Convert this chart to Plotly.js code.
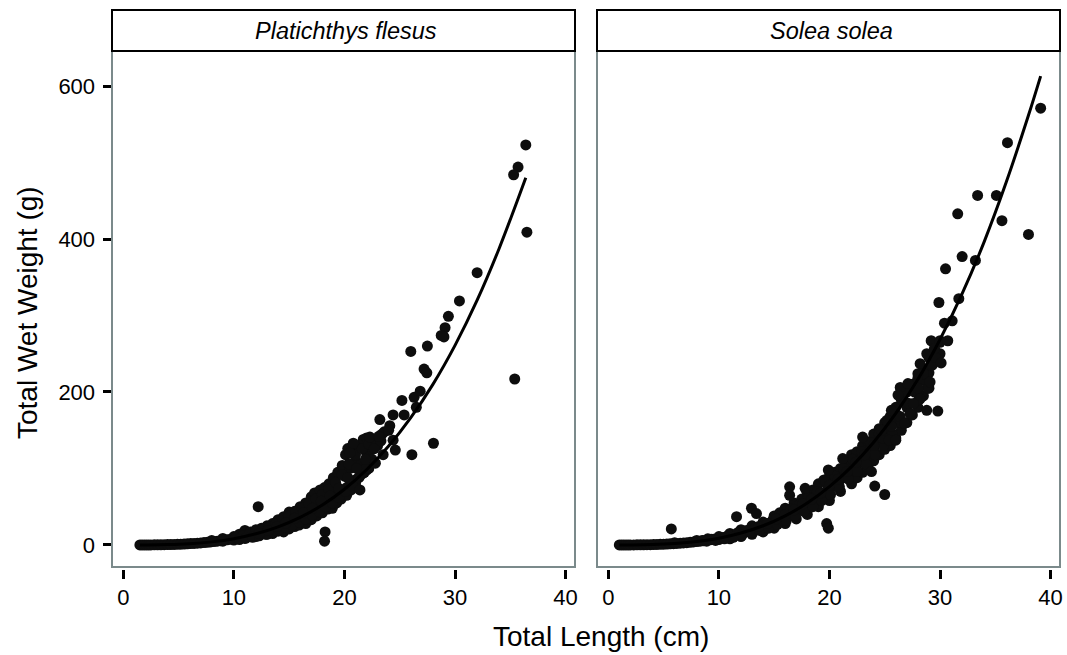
<!DOCTYPE html>
<html>
<head>
<meta charset="utf-8">
<script src="https://cdn.plot.ly/plotly-3.0.1.min.js"></script>
<style>html,body{margin:0;padding:0;background:#fff;}#chart{width:1067px;height:655px;}</style>
</head>
<body>
<div id="chart"></div>
<script>
// ---------- Data ----------
const panelTitles = ["Platichthys flesus", "Solea solea"];
const xTickVals = [0, 10, 20, 30, 40];
const yTickVals = [0, 200, 400, 600];
const xTitle = "Total Length (cm)";
const yTitle = "Total Wet Weight (g)";

// Platichthys flesus – dense band
const pfBandLength = [1.5,1.7,1.9,2.1,2.3,2.5,2.8,3.1,3.4,3.7,4.0,4.3,4.6,4.9,5.2,5.5,5.8,6.1,6.4,6.7,
  7.0,7.3,7.6,7.9,8.2,8.5,8.8,9.1,9.4,9.7,10.0,10.3,10.6,10.9,11.2,11.5,11.8,12.1,12.4,12.7,
  13.0,13.3,13.6,13.9,14.2,14.5,14.8,15.1,15.4,15.7,16.0,16.3,16.6,16.9,17.2,17.5,17.8,18.1,18.4,18.7,
  19.0,19.3,19.6,19.9,20.2,20.5,20.8,21.1,21.4,21.7,22.0];
const pfBandWeight = [0.02,0.03,0.04,0.06,0.08,0.1,0.15,0.21,0.28,0.36,0.46,0.58,0.72,0.88,1.06,1.26,1.5,1.76,2.04,2.36,
  2.7,3.1,3.5,3.95,4.45,5.0,5.55,6.2,6.8,7.5,8.2,9.0,9.9,10.8,11.7,12.7,13.8,14.9,16.1,17.4,
  18.7,20.1,21.6,23.1,24.7,26.4,28.1,29.9,31.8,33.8,36,38,40.3,42.6,45,47.5,50,53,55.7,58.6,
  61.6,64.7,68,71.3,75,78.5,82,86,90,94,98];
// Platichthys flesus – spread around the band
const pfUpperLength = [8,9,10,10.5,11,11.5,12,12.5,13,13.5,14,14.5,15,15.5,16,16.5,17,17.3,17.8,18.2,18.6,19,19.4,19.8,20.1,20.3,20.6,21,21.3,21.7,22,22.6,23.6];
const pfUpperWeight = [6,8.5,11,14,19,17,20,22,25,28,33,37,43,44,50,55,63,68,72,75,80,88,95,104,118,126,122,125,130,138,140,138,148];
const pfLowerLength = [9,10,11,12,13,13.5,14,14.5,15,15.5,15.9,16.5,17,17.5,18,18.5,18.9,19.3,19.7,20.2,20.6,21,21.8,22.2,23.5];
const pfLowerWeight = [5,6.5,8.5,11,14,15,18,17,21,24,26,28,33,38,42,47,48,55,60,65,72,80,95,100,118];
const pfMidLength = [15,16,17,18,19,20,20.5,21,21.5,22,22.5,23];
const pfMidWeight = [35,40,50,60,70,90,100,110,105,120,125,130];
const pfFillALength = [10.2,10.8,11.4,12.0,12.6,13.2,13.8,14.4,15.0,15.6,16.2,16.8,17.4,18.0,18.6,19.2,19.8,20.4,21.0,21.6,22.2,22.8,23.4];
const pfFillAWeight = [10,12,14,17,20,24,28,32,38,43,48,54,60,66,73,82,92,106,118,126,132,138,145];
const pfFillBLength = [10.5,11.1,11.7,12.3,12.9,13.5,14.1,14.7,15.3,15.9,16.5,17.1,17.7,18.3,18.9,19.5,20.1,20.7,21.3,21.9,22.5];
const pfFillBWeight = [7,9,10,12,14,17,20,23,26,30,34,39,44,50,55,62,70,78,88,100,112];
const pfFillCLength = [12.3,13.1,13.9,14.7,15.5,16.3,17.1,17.9,18.7,19.5,20.3,21.1,21.9,22.7,23.3];
const pfFillCWeight = [15,19,24,29,35,42,48,57,64,74,88,100,112,126,136];
// Platichthys flesus – isolated points
const pfOutLength = [36.4,35.7,35.3,36.5,35.4,32.0,30.4,29.4,29.1,28.75,29.0,26.0,27.5,27.2,27.45,25.2,26.3,26.85,26.5,
  24.4,25.4,23.2,24.1,24.0,28.05,26.1,20.8,20.5,22.3,23.1,24.4,24.6,22.8,21.4,18.25,18.2,12.2];
const pfOutWeight = [523,494,484,409,217,356,319,299,284,274,272,253,260,230,225,189,193,201,180,
  170,170,164,156,150,133,118,133,120,141,142,137,124,107,72,17,5,50];
// Platichthys flesus – fitted curve
const pfFitLength = [1.5,2,4,6,8,10,12,14,16,18,20,22,24,26,28,30,32,34,36.4];
const pfFitWeight = [0.02,0.052,0.46,1.64,4.06,8.2,14.6,23.7,36.1,52.2,72.9,98.4,129.4,166.5,210,261,320,388,480];

// Solea solea – dense band
const ssBandLength = [1.0,1.2,1.4,1.6,1.8,2.0,2.3,2.6,2.9,3.2,3.5,3.8,4.1,4.4,4.7,5.0,5.3,5.6,5.9,6.2,
  6.5,6.8,7.1,7.4,7.7,8.0,8.3,8.6,8.9,9.2,9.5,9.8,10.1,10.4,10.7,11.0,11.3,11.6,11.9,12.2,
  12.5,12.8,13.1,13.4,13.7,14.0,14.3,14.6,14.9,15.2,15.5,15.8,16.1,16.4,16.7,17.0,17.3,17.6,17.9,18.2,
  18.5,18.8,19.1,19.4,19.7,20.0,20.3,20.6,20.9,21.2,21.5,21.8,22.1,22.4,22.7,23.0,23.3,23.6,23.9,24.2,
  24.5,24.8,25.1];
const ssBandWeight = [0.007,0.012,0.02,0.03,0.042,0.059,0.09,0.13,0.18,0.25,0.33,0.43,0.55,0.69,0.85,1.03,1.24,1.47,1.73,2.0,
  2.34,2.68,3.06,3.47,3.92,4.4,4.92,5.48,6.08,6.73,7.42,8.16,8.95,9.8,10.7,11.6,12.6,13.7,14.8,16.0,
  17.3,18.6,20,21.4,22.9,24.5,26.2,27.9,29.7,31.6,33.5,35.6,37.7,39.9,42.2,44.6,47,49.6,52.2,55,
  57.8,60.7,63.7,66.8,70,73.5,77,80.5,84,88,92,96,100,104,108,113,117,122,127,132,
  137,142,147];
// Solea solea – spread around the band
const ssUpperLength = [6,8,9,10,11,12,13,14,15,15.5,16,16.8,17.5,18,18.5,19,19.5,20,20.5,21,21.5,22,22.5,23,23.5,24,24.5,25,25.5,26,26.5,27,27.5,28,28.5,29,29.5,30];
const ssUpperWeight = [3,6,8,11,15,20,25,30,38,42,48,55,60,68,72,80,85,90,95,100,108,118,122,130,135,145,152,160,168,180,190,200,210,218,230,245,255,265];
const ssLowerLength = [10,11,12,13,14,15,16,17,18,19,20,21,22,22.5,23,23.5,24,24.5,25,25.5,26,26.5,27,27.5,28,28.5,29];
const ssLowerWeight = [7,8,11,14,17,22,28,34,40,50,58,70,80,88,95,100,110,118,125,130,140,150,160,170,180,195,205];
const ssMidLength = [22,23,24,25,26,27,28,29,30];
const ssMidWeight = [105,115,125,140,160,180,200,225,250];
const ssFillALength = [8.5,9.3,10.1,10.9,11.7,12.5,13.3,14.1,14.9,15.7,16.5,17.3,18.1,18.9,19.7,20.5,21.3,22.1,22.9,23.7,24.5,25.3,26.1,26.9,27.7,28.5,29.3];
const ssFillAWeight = [6,7.5,10,13,16,19,23,28,33,40,47,53,62,70,82,90,100,112,122,134,145,158,170,186,200,215,235];
const ssFillBLength = [8.9,9.7,10.5,11.3,12.1,12.9,13.7,14.5,15.3,16.1,16.9,17.7,18.5,19.3,20.1,20.9,21.7,22.5,23.3,24.1,24.9,25.7,26.5,27.3,28.1,28.9];
const ssFillBWeight = [5,6,8,10,13,16,19,22,27,32,38,44,50,58,66,76,86,96,106,118,130,145,160,172,190,205];
const ssFillCLength = [13.6,14.4,15.2,16.0,16.8,17.6,18.4,19.2,20.0,20.8,21.6,22.4,23.2,24.0,24.8,25.6,26.4,27.2,28.0,28.8,29.6];
const ssFillCWeight = [24,28,34,40,46,54,60,68,78,86,96,108,118,130,140,155,168,185,205,222,245];
// Solea solea – isolated points
const ssOutLength = [39.1,36.1,33.4,35.1,31.6,35.6,38.0,32.0,33.2,30.5,29.9,31.7,30.4,31.1,29.2,30.0,30.7,28.8,29.5,30.1,
  28.2,28.5,29.1,28.0,26.4,27.1,26.2,28.2,28.8,29.8,27.6,25.6,26.8,23.0,25.2,24.7,25.4,26.0,21.2,19.9,
  23.8,24.1,25.0,16.4,16.4,17.8,19.75,19.9,12.95,13.4,11.6,5.7];
const ssOutWeight = [571,526,457,457,433,424,406,377,372,361,317,322,290,293,267,267,267,250,257,238,
  237,224,213,224,206,211,196,191,176,175,185,176,159,141,163,150,137,137,113,98,
  96,77,66,76,65,74,28,22,48,41,37,21];
// Solea solea – fitted curve
const ssFitLength = [1,2,4,6,8,10,12,14,16,18,20,22,24,26,28,30,32,34,36,38,39.1];
const ssFitWeight = [0.007,0.059,0.51,1.8,4.4,8.8,15.6,25.1,38.1,54.8,76.2,102.5,134.3,172,216.6,268.7,328.5,396.6,474.7,561.7,613];

// ---------- Build ----------
const pfL = [].concat(pfBandLength, pfUpperLength, pfLowerLength, pfMidLength, pfFillALength, pfFillBLength, pfFillCLength, pfOutLength);
const pfW = [].concat(pfBandWeight, pfUpperWeight, pfLowerWeight, pfMidWeight, pfFillAWeight, pfFillBWeight, pfFillCWeight, pfOutWeight);
const ssL = [].concat(ssBandLength, ssUpperLength, ssLowerLength, ssMidLength, ssFillALength, ssFillBLength, ssFillCLength, ssOutLength);
const ssW = [].concat(ssBandWeight, ssUpperWeight, ssLowerWeight, ssMidWeight, ssFillAWeight, ssFillBWeight, ssFillCWeight, ssOutWeight);

const W = 1067, H = 655;
const px = v => v / W;
const py = v => 1 - v / H;

const FONT = '"Liberation Sans", Arial, Helvetica, sans-serif';
const markerStyle = {color: '#0d0d0d', size: 11, line: {width: 0}};
const lineStyle = {color: '#000000', width: 3, shape: 'spline'};

const traces = [
  {x: pfL, y: pfW, type: 'scatter', mode: 'markers', marker: markerStyle, xaxis: 'x', yaxis: 'y', hoverinfo: 'x+y'},
  {x: pfFitLength, y: pfFitWeight, type: 'scatter', mode: 'lines', line: lineStyle, xaxis: 'x', yaxis: 'y'},
  {x: ssL, y: ssW, type: 'scatter', mode: 'markers', marker: markerStyle, xaxis: 'x2', yaxis: 'y2', hoverinfo: 'x+y'},
  {x: ssFitLength, y: ssFitWeight, type: 'scatter', mode: 'lines', line: lineStyle, xaxis: 'x2', yaxis: 'y2'}
];

const xRange = [-1.02, 40.85];
const yRange = [-28.8, 645.8];
const yDom = [py(567), py(51)];
const tickFont = {family: FONT, size: 22, color: '#000'};

function xAxis(dom) {
  return {
    domain: dom, range: xRange, anchor: 'free', position: py(568.5),
    tickvals: xTickVals, ticktext: xTickVals.map(String),
    ticks: 'outside', ticklen: 9, tickwidth: 3, tickcolor: '#000',
    showline: false, showgrid: false, zeroline: false,
    tickfont: tickFont, fixedrange: true
  };
}

const layout = {
  width: W, height: H,
  margin: {l: 0, r: 0, t: 0, b: 0},
  showlegend: false,
  paper_bgcolor: '#ffffff', plot_bgcolor: '#ffffff',
  font: {family: FONT, size: 20, color: '#000'},
  xaxis: xAxis([px(112), px(575)]),
  xaxis2: xAxis([px(597), px(1060)]),
  yaxis: {
    domain: yDom, range: yRange, anchor: 'free', position: px(110.5),
    tickvals: yTickVals, ticktext: yTickVals.map(String),
    ticks: 'outside', ticklen: 8, tickwidth: 3, tickcolor: '#000',
    ticklabelstandoff: 3,
    showline: false, showgrid: false, zeroline: false,
    tickfont: tickFont, fixedrange: true
  },
  yaxis2: {
    domain: yDom, range: yRange, anchor: 'x2',
    showticklabels: false, ticks: '', showline: false, showgrid: false, zeroline: false, fixedrange: true
  },
  shapes: [
    {type: 'rect', xref: 'paper', yref: 'paper', x0: px(112), x1: px(575), y0: yDom[0], y1: yDom[1],
     line: {color: '#7b8a8b', width: 2}, fillcolor: 'rgba(0,0,0,0)', layer: 'above'},
    {type: 'rect', xref: 'paper', yref: 'paper', x0: px(597), x1: px(1060), y0: yDom[0], y1: yDom[1],
     line: {color: '#7b8a8b', width: 2}, fillcolor: 'rgba(0,0,0,0)', layer: 'above'},
    {type: 'rect', xref: 'paper', yref: 'paper', x0: px(112), x1: px(575), y0: py(51), y1: py(10),
     line: {color: '#000', width: 2}, fillcolor: '#ffffff', layer: 'above'},
    {type: 'rect', xref: 'paper', yref: 'paper', x0: px(597), x1: px(1060), y0: py(51), y1: py(10),
     line: {color: '#000', width: 2}, fillcolor: '#ffffff', layer: 'above'}
  ],
  annotations: [
    {text: '<i>' + panelTitles[0] + '</i>', xref: 'paper', yref: 'paper', x: px(346), y: py(31),
     xanchor: 'center', yanchor: 'middle', showarrow: false, font: {family: FONT, size: 23.5, color: '#000'}},
    {text: '<i>' + panelTitles[1] + '</i>', xref: 'paper', yref: 'paper', x: px(831), y: py(31),
     xanchor: 'center', yanchor: 'middle', showarrow: false, font: {family: FONT, size: 23.5, color: '#000'}},
    {text: xTitle, xref: 'paper', yref: 'paper', x: px(601), y: py(636),
     xanchor: 'center', yanchor: 'middle', showarrow: false, font: {family: FONT, size: 28, color: '#000'}},
    {text: yTitle, xref: 'paper', yref: 'paper', x: px(27), y: py(313), textangle: -90,
     xanchor: 'center', yanchor: 'middle', showarrow: false, font: {family: FONT, size: 28, color: '#000'}}
  ]
};

Plotly.newPlot('chart', traces, layout, {displayModeBar: false, staticPlot: true});
</script>
</body>
</html>
